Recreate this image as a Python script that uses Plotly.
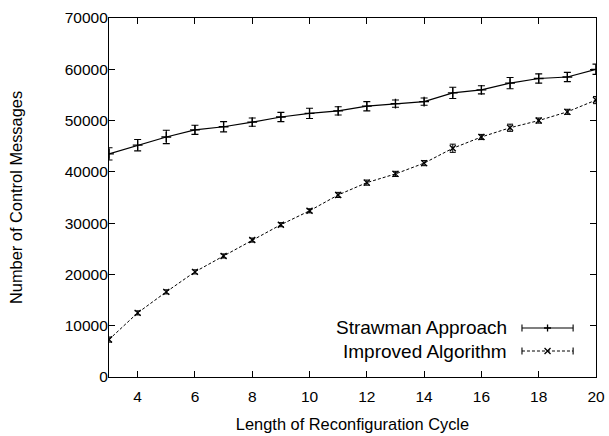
import plotly.graph_objects as go

cycle_length = [3, 4, 5, 6, 7, 8, 9, 10, 11, 12, 13, 14, 15, 16, 17, 18, 19, 20]
strawman = [43500, 45200, 46800, 48200, 48800, 49700, 50700, 51400, 51900, 52800,
            53300, 53700, 55400, 56000, 57300, 58200, 58500, 60000]
strawman_err = [1200, 1100, 1300, 900, 1000, 800, 900, 1000, 800, 900,
                700, 700, 1100, 800, 1100, 900, 900, 1000]
improved = [7300, 12500, 16600, 20500, 23600, 26700, 29700, 32400, 35500, 37900,
            39600, 41700, 44600, 46800, 48600, 50000, 51700, 54000]
improved_err = [500, 400, 400, 400, 400, 400, 400, 400, 500, 500,
                500, 500, 800, 500, 700, 500, 500, 700]
series_names = ["Strawman Approach", "Improved Algorithm"]
x_ticks = [4, 6, 8, 10, 12, 14, 16, 18, 20]
y_ticks = [0, 10000, 20000, 30000, 40000, 50000, 60000, 70000]

FONT = "Liberation Sans, Arial, Helvetica, sans-serif"

fig = go.Figure()
fig.add_trace(go.Scatter(
    x=cycle_length, y=strawman, mode="lines+markers", name=series_names[0],
    line=dict(color="black", width=1.2, dash="solid"),
    marker=dict(symbol="cross-thin", size=7, color="black", line=dict(width=1.3, color="black")),
    error_y=dict(type="data", array=strawman_err, visible=True, color="black", thickness=1.1, width=3.5),
    showlegend=False,
))
fig.add_trace(go.Scatter(
    x=cycle_length, y=improved, mode="lines+markers", name=series_names[1],
    line=dict(color="black", width=1.0, dash="3px,2px"),
    marker=dict(symbol="x-thin", size=6, color="black", line=dict(width=1.3, color="black")),
    error_y=dict(type="data", array=improved_err, visible=True, color="black", thickness=1.0, width=3),
    showlegend=False,
))

# manual gnuplot-style legend (text then sample on the right)
leg_rows = [(0.1365, "solid", "cross"), (0.0724, "dash", "x")]
shapes = []
annotations = []
for (yy, dash, sym), name in zip(leg_rows, series_names):
    annotations.append(dict(
        x=0.822, y=yy, xref="paper", yref="paper", text=name, showarrow=False,
        xanchor="right", yanchor="middle", font=dict(family=FONT, size=19, color="black"),
    ))
    shapes.append(dict(type="line", xref="paper", yref="paper", x0=0.848, x1=0.953, y0=yy, y1=yy,
                       line=dict(color="black", width=1.1 if dash == "solid" else 1.0,
                                 dash="solid" if dash == "solid" else "3px,2px")))
    for xe in (0.848, 0.953):
        shapes.append(dict(type="line", xref="paper", yref="paper", xsizemode="pixel", ysizemode="pixel",
                           xanchor=xe, yanchor=yy, x0=0, x1=0, y0=-3.5, y1=3.5,
                           line=dict(color="black", width=1.1)))
    if sym == "cross":
        path = "M -3.5 0 L 3.5 0 M 0 -3.5 L 0 3.5"
    else:
        path = "M -3 -3 L 3 3 M -3 3 L 3 -3"
    shapes.append(dict(type="path", xref="paper", yref="paper", xsizemode="pixel", ysizemode="pixel",
                       xanchor=0.9005, yanchor=yy, path=path, line=dict(color="black", width=1.3)))

axis_common = dict(
    showline=True, linecolor="black", linewidth=1.2, mirror="allticks",
    ticks="inside", ticklen=6, tickwidth=1, tickcolor="black",
    showgrid=False, zeroline=False, automargin=False,
    tickfont=dict(family=FONT, size=15.5, color="black"),
)

fig.update_layout(
    width=609, height=436,
    margin=dict(l=109, r=13, t=18, b=59),
    paper_bgcolor="white", plot_bgcolor="white",
    font=dict(family=FONT, size=16.4, color="black"),
    xaxis=dict(range=[3, 20], tickvals=x_ticks, ticktext=[str(v) for v in x_ticks],
               ticklabelstandoff=5,
               title=dict(text="Length of Reconfiguration Cycle", font=dict(family=FONT, size=16.4), standoff=14),
               **axis_common),
    yaxis=dict(range=[0, 70000], tickvals=y_ticks, ticktext=[str(v) for v in y_ticks],
               ticklabelstandoff=-3,
               title=dict(text="Number of Control Messages", font=dict(family=FONT, size=16.4), standoff=37),
               **axis_common),
    shapes=shapes, annotations=annotations,
)

fig.write_html("out.html", config={"displayModeBar": False},
               post_script="document.body.style.margin='0px';document.body.style.padding='0px';")
